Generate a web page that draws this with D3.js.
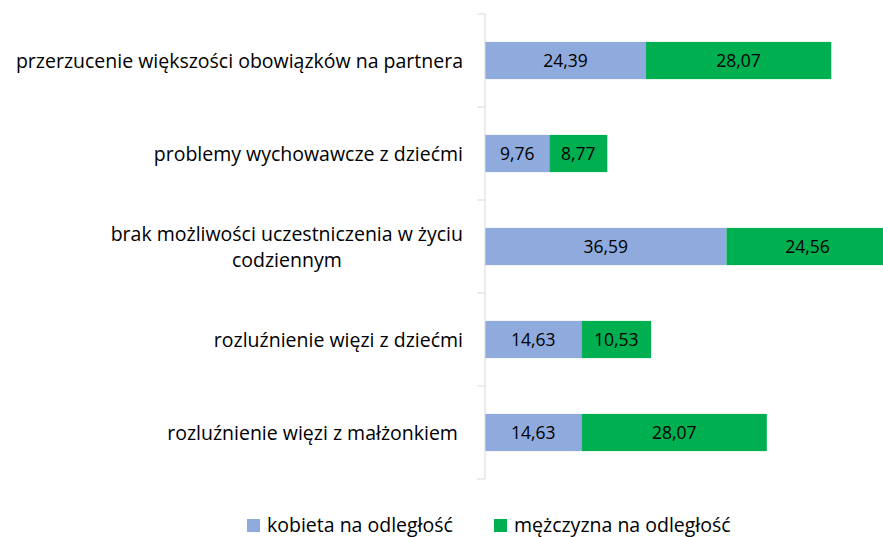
<!DOCTYPE html>
<html>
<head>
<meta charset="utf-8">
<script src="https://cdn.jsdelivr.net/npm/d3@7"></script>
<style>
  body { margin: 0; background: #fff; }
  svg text { font-family: "Open Sans", sans-serif; fill: #000; white-space: pre; }
</style>
</head>
<body>
<svg id="chart" width="883" height="537"></svg>
<script>
// categories, top to bottom
const categories = [
    ["przerzucenie większości obowiązków na partnera"],
    ["problemy wychowawcze z dziećmi"],
    ["brak możliwości uczestniczenia w życiu", "codziennym"],
    ["rozluźnienie więzi z dziećmi"],
    ["rozluźnienie więzi z małżonkiem "]
];
const seriesNames = ["kobieta na odległość", "mężczyzna na odległość"];
const kobieta = [24.39, 9.76, 36.59, 14.63, 14.63];
const mezczyzna = [28.07, 8.77, 24.56, 10.53, 28.07];
const colors = ["#8faadc", "#00b050"];

const svg = d3.select("#chart");
const axisX = 485;
const plotTop = 14, plotBottom = 479;

// px per unit ~6.6
const x = d3.scaleLinear().domain([0, 70]).range([axisX, axisX + 70 * 6.6]);
const y = d3.scaleBand().domain(d3.range(categories.length)).range([plotTop, plotBottom]).paddingInner(0.6).paddingOuter(0.3);
const band = d3.scaleBand().domain(d3.range(categories.length)).range([plotTop, plotBottom]);

const fmt = v => v.toFixed(2).replace(".", ",");

// bars
const rows = categories.map((c, i) => ({i: i, vals: [kobieta[i], mezczyzna[i]]}));
rows.forEach(r => {
    let start = 0;
    r.vals.forEach((v, s) => {
        svg.append("rect")
            .attr("x", x(start))
            .attr("y", y(r.i))
            .attr("width", x(start + v) - x(start))
            .attr("height", y.bandwidth())
            .attr("fill", colors[s]);
        svg.append("text")
            .attr("x", (x(start) + x(start + v)) / 2)
            .attr("y", y(r.i) + y.bandwidth() / 2)
            .attr("dy", "0.36em")
            .attr("text-anchor", "middle")
            .style("font-size", "17.5px")
            .text(fmt(v));
        start += v;
    });
});

// vertical axis line with tick marks at category boundaries
svg.append("line")
    .attr("x1", axisX).attr("x2", axisX)
    .attr("y1", plotTop).attr("y2", plotBottom)
    .attr("stroke", "#d9d9d9").attr("stroke-width", 1);
d3.range(categories.length + 1).forEach(k => {
    const ty = plotTop + k * band.bandwidth();
    svg.append("line")
        .attr("x1", axisX - 8).attr("x2", axisX)
        .attr("y1", ty).attr("y2", ty)
        .attr("stroke", "#d9d9d9").attr("stroke-width", 1);
});

// category labels (multi-line labels centered within a right-aligned block)
categories.forEach((lines, i) => {
    const cy = y(i) + y.bandwidth() / 2;
    const lh = 26;
    const g = svg.append("g");
    const texts = lines.map((l, j) => g.append("text")
        .attr("y", cy + (j - (lines.length - 1) / 2) * lh)
        .attr("dy", "0.36em")
        .style("font-size", "19.5px")
        .text(l));
    const widths = texts.map(t => t.node().getComputedTextLength());
    const maxW = d3.max(widths);
    const right = axisX - 22;
    texts.forEach((t, j) => t.attr("x", right - maxW / 2).attr("text-anchor", "middle"));
});

// legend
const legendX = [247, 494];
seriesNames.forEach((n, s) => {
    svg.append("rect")
        .attr("x", legendX[s]).attr("y", 519)
        .attr("width", 13).attr("height", 13)
        .attr("fill", colors[s]);
    svg.append("text")
        .attr("x", legendX[s] + 20).attr("y", 532)
        .style("font-size", "19.5px")
        .text(n);
});
</script>
</body>
</html>
